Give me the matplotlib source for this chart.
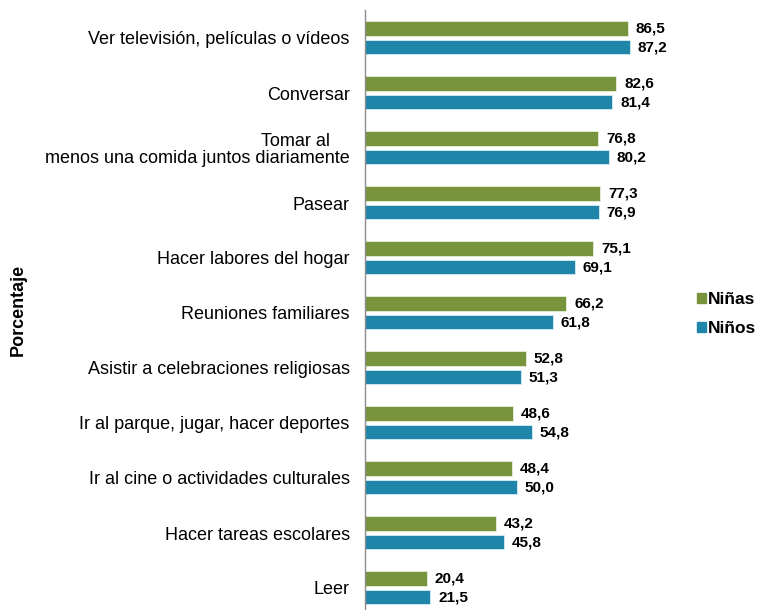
import numpy as np
import matplotlib
matplotlib.use("Agg")
import matplotlib.pyplot as plt
import matplotlib.patches as mpatches

plt.rcParams["font.family"] = ["Liberation Sans", "DejaVu Sans"]

categories = [
    "Ver televisión, películas o vídeos",
    "Conversar",
    "Tomar al    \nmenos una comida juntos diariamente",
    "Pasear",
    "Hacer labores del hogar",
    "Reuniones familiares",
    "Asistir a celebraciones religiosas",
    "Ir al parque, jugar, hacer deportes",
    "Ir al cine o actividades culturales",
    "Hacer tareas escolares",
    "Leer",
]
ninas = [86.5, 82.6, 76.8, 77.3, 75.1, 66.2, 52.8, 48.6, 48.4, 43.2, 20.4]
ninos = [87.2, 81.4, 80.2, 76.9, 69.1, 61.8, 51.3, 54.8, 50.0, 45.8, 21.5]

GREEN = "#77933C"
BLUE = "#1F86AA"

W, H = 757, 610
fig = plt.figure(figsize=(W / 100, H / 100), dpi=100)
ax = fig.add_axes([365 / W, 0, 304 / W, 600 / H])

y = np.arange(len(categories))
h = 0.26
ax.barh(y - 0.175, ninas, height=h, color=GREEN, edgecolor="#e8eedc", linewidth=0.6)
ax.barh(y + 0.165, ninos, height=h, color=BLUE, edgecolor="#d6ecf3", linewidth=0.6)

for i in range(len(categories)):
    ax.text(ninas[i] + 2.6, y[i] - 0.175, f"{ninas[i]:.1f}".replace(".", ","),
            va="center", ha="left", fontsize=11, fontweight="bold", clip_on=False)
    ax.text(ninos[i] + 2.6, y[i] + 0.165, f"{ninos[i]:.1f}".replace(".", ","),
            va="center", ha="left", fontsize=11, fontweight="bold", clip_on=False)

ax.set_xlim(0, 100)
ax.set_ylim(10 + 22 / 55, -28 / 55)
ax.set_yticks(y)
ax.set_yticklabels(categories, fontsize=13, multialignment="right", linespacing=1.0)
ax.tick_params(axis="y", length=0, pad=11)
ax.set_xticks([])
for s in ["top", "right", "bottom"]:
    ax.spines[s].set_visible(False)
ax.spines["left"].set_color("#8c8c8c")
ax.spines["left"].set_linewidth(1)

fig.text(18 / W, 1 - 310 / H, "Porcentaje", rotation=90, ha="center", va="center",
         fontsize=13, fontweight="bold")

handles = [mpatches.Patch(color=GREEN, label="Niñas"),
           mpatches.Patch(color=BLUE, label="Niños")]
fig.legend(handles=handles, loc="center left", bbox_to_anchor=(697 / W, 1 - 314 / H),
           frameon=False, borderaxespad=0, borderpad=0,
           prop={"size": 12.5, "weight": "bold"},
           handlelength=0.5, handleheight=0.5, handletextpad=0.15, labelspacing=0.8)

fig.savefig("out.png", dpi=100)
